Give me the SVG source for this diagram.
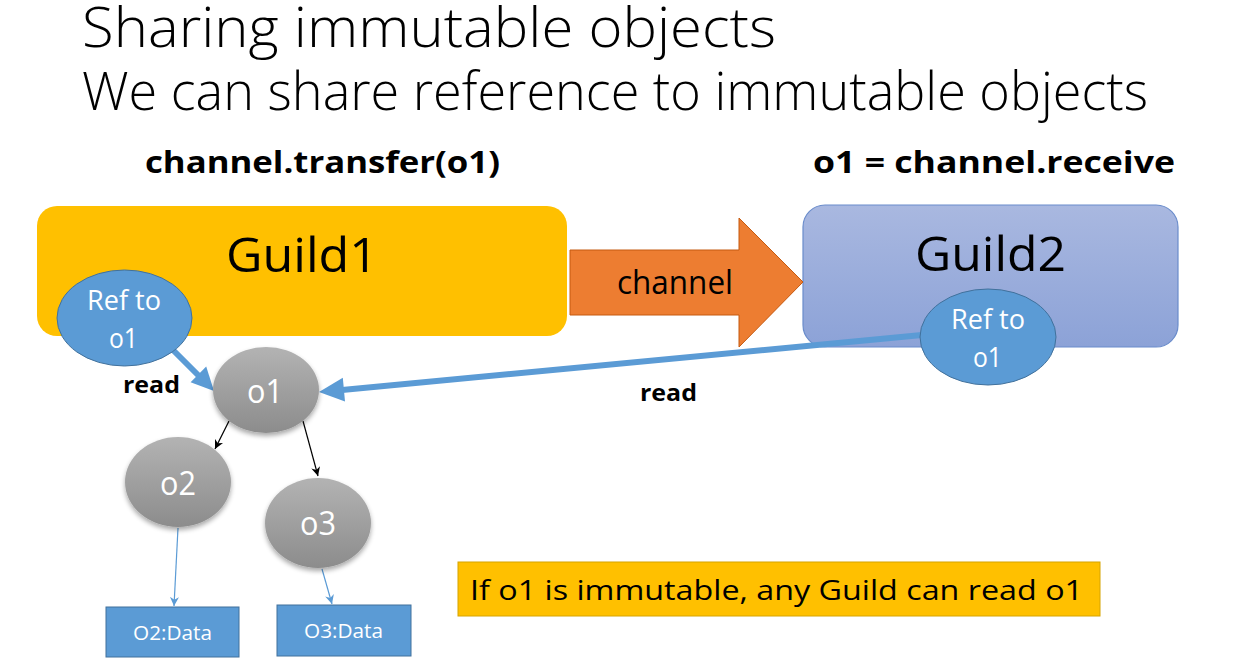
<svg xmlns="http://www.w3.org/2000/svg" width="1253" height="663" viewBox="0 0 1253 663">
<style>
.t{font-family:"Open Sans","Noto Sans","Liberation Sans",sans-serif;}
.light{font-weight:300;fill:#000;}
.bold{font-weight:700;fill:#000;}
.w{fill:#fff;}
.blk{fill:#000;}
.ref{fill:#5B9BD5;stroke:#41719C;stroke-width:1;}
.obj{fill:url(#grey);filter:url(#sh);}
.data{fill:#5B9BD5;stroke:#41719C;stroke-width:1;}
.thick{stroke:#5B9BD5;stroke-width:6;fill:none;}
.thin{stroke:#000;stroke-width:1.2;fill:none;}
.thinb{stroke:#5B9BD5;stroke-width:1.2;fill:none;}
</style>
<defs>
<linearGradient id="grey" x1="0" y1="0" x2="0" y2="1">
<stop offset="0" stop-color="#B3B3B3"/>
<stop offset="1" stop-color="#8C8C8C"/>
</linearGradient>
<linearGradient id="g2" x1="0" y1="0" x2="0" y2="1">
<stop offset="0" stop-color="#A9B8E0"/>
<stop offset="1" stop-color="#8CA2D7"/>
</linearGradient>
<filter id="sh" x="-20%" y="-20%" width="140%" height="150%">
<feGaussianBlur in="SourceAlpha" stdDeviation="2.5"/>
<feOffset dx="0" dy="3" result="b"/>
<feComponentTransfer><feFuncA type="linear" slope="0.35"/></feComponentTransfer>
<feMerge><feMergeNode/><feMergeNode in="SourceGraphic"/></feMerge>
</filter>
<marker id="ab" viewBox="0 0 10 10" refX="10" refY="5" markerWidth="9" markerHeight="9" markerUnits="userSpaceOnUse" orient="auto">
<path d="M0,0 L10,5 L0,10 L3,5 z" fill="#000"/>
</marker>
<marker id="abl" viewBox="0 0 10 10" refX="10" refY="5" markerWidth="9" markerHeight="9" markerUnits="userSpaceOnUse" orient="auto">
<path d="M0,0 L10,5 L0,10 L3,5 z" fill="#5B9BD5"/>
</marker>
</defs>

<g id="titles">
<text class="t light" x="82" y="47" font-size="55" textLength="694" lengthAdjust="spacingAndGlyphs">Sharing immutable objects</text>
<text class="t light" x="82" y="110" font-size="53" textLength="1066" lengthAdjust="spacingAndGlyphs">We can share reference to immutable objects</text>
<text class="t bold" x="145" y="173" font-size="31" textLength="355" lengthAdjust="spacingAndGlyphs">channel.transfer(o1)</text>
<text class="t bold" x="813" y="173" font-size="31" textLength="362" lengthAdjust="spacingAndGlyphs">o1 = channel.receive</text>
</g>

<g id="guild1">
<rect x="37" y="206" width="530" height="130" rx="20" fill="#FFC000"/>
<text class="t blk" x="226" y="272" font-size="48" textLength="152" lengthAdjust="spacingAndGlyphs">Guild1</text>
</g>

<g id="guild2">
<rect x="803" y="205" width="375" height="142" rx="22" fill="url(#g2)" stroke="#6A8CCB" stroke-width="1.2"/>
<text class="t blk" x="915" y="271" font-size="48" textLength="151" lengthAdjust="spacingAndGlyphs">Guild2</text>
</g>

<g id="channel">
<polygon points="570,250 739,250 739,218 803,282 739,347 739,315 570,315" fill="#ED7D31" stroke="#C55A11" stroke-width="1"/>
<text class="t blk" x="617" y="294" font-size="32" textLength="116" lengthAdjust="spacingAndGlyphs">channel</text>
</g>

<g id="connectors">
<line class="thick" x1="172" y1="349" x2="200" y2="377"/>
<polygon points="214,391 190.6,382.2 206.2,366.6" fill="#5B9BD5"/>
<line class="thick" x1="922" y1="335" x2="342" y2="390"/>
<polygon points="319,392 345,401.6 342.8,377.8" fill="#5B9BD5"/>
<line class="thin" x1="229" y1="421" x2="215" y2="449" marker-end="url(#ab)"/>
<line class="thin" x1="303" y1="421" x2="318" y2="476" marker-end="url(#ab)"/>
<line class="thinb" x1="178" y1="528" x2="174" y2="606" marker-end="url(#abl)"/>
<line class="thinb" x1="322" y1="569" x2="332" y2="604" marker-end="url(#abl)"/>
<text class="t bold" x="123" y="393" font-size="23" textLength="57" lengthAdjust="spacingAndGlyphs">read</text>
<text class="t bold" x="640" y="401" font-size="23" textLength="57" lengthAdjust="spacingAndGlyphs">read</text>
</g>

<g id="ref1">
<ellipse class="ref" cx="124.5" cy="318" rx="67.5" ry="48"/>
<text class="t w" x="87" y="310" font-size="27" textLength="74" lengthAdjust="spacingAndGlyphs">Ref to</text>
<text class="t w" x="109" y="348" font-size="27" textLength="29" lengthAdjust="spacingAndGlyphs">o1</text>
</g>

<g id="ref2">
<ellipse class="ref" cx="988" cy="337" rx="68" ry="48"/>
<text class="t w" x="951" y="329" font-size="27" textLength="74" lengthAdjust="spacingAndGlyphs">Ref to</text>
<text class="t w" x="973" y="367" font-size="27" textLength="29" lengthAdjust="spacingAndGlyphs">o1</text>
</g>

<g id="o1">
<ellipse class="obj" cx="266" cy="390" rx="53" ry="43"/>
<text class="t w" x="247" y="403" font-size="32" textLength="36" lengthAdjust="spacingAndGlyphs">o1</text>
</g>

<g id="o2">
<ellipse class="obj" cx="178" cy="482" rx="53" ry="45"/>
<text class="t w" x="160" y="495" font-size="32" textLength="36" lengthAdjust="spacingAndGlyphs">o2</text>
</g>

<g id="o3">
<ellipse class="obj" cx="318" cy="523" rx="53" ry="45"/>
<text class="t w" x="300" y="535" font-size="32" textLength="36" lengthAdjust="spacingAndGlyphs">o3</text>
</g>

<g id="o2data">
<rect class="data" x="106" y="607" width="133" height="50"/>
<text class="t w" x="133" y="640" font-size="20" textLength="79" lengthAdjust="spacingAndGlyphs">O2:Data</text>
</g>

<g id="o3data">
<rect class="data" x="277" y="605" width="134" height="51"/>
<text class="t w" x="304" y="638" font-size="20" textLength="79" lengthAdjust="spacingAndGlyphs">O3:Data</text>
</g>

<g id="note">
<rect x="458" y="562" width="642" height="54" fill="#FFC000" stroke="#D6A400" stroke-width="1"/>
<text class="t blk" x="470" y="600" font-size="28" textLength="613" lengthAdjust="spacingAndGlyphs">If o1 is immutable, any Guild can read o1</text>
</g>
</svg>
